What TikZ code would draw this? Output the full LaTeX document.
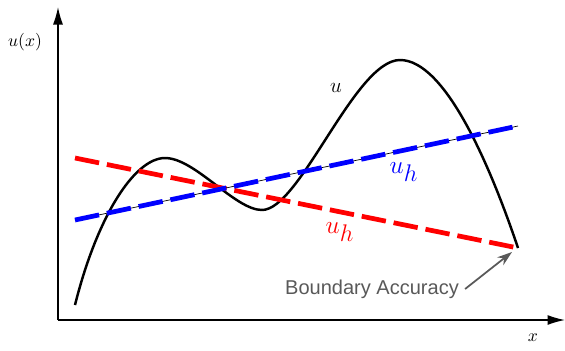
\documentclass[tikz,border=0pt]{standalone}
\usepackage{fontspec}
\newfontfamily\labelfont{Liberation Sans}
\usetikzlibrary{arrows.meta,positioning,calc}
\newcommand{\uhlab}{$u_{\scalebox{0.95}{$h$}}$}
\begin{document}
\begin{tikzpicture}[>={Latex[length=3.5mm,width=2mm]},
  ax/.style={line width=0.8pt,->},
  uh/.style={line width=2.7pt,dash pattern=on 14pt off 4.5pt},
  lab/.style={font=\large},
  hlab/.style={font=\fontsize{13.5}{15}\selectfont}]
\useasboundingbox (0,0) rectangle (11.3,7);
\coordinate (o) at (1.16,0.6);
\coordinate (ytop) at (1.16,6.86);
\coordinate (xend) at (11.3,0.6);
\draw[ax] (o)--(ytop); \draw[ax] (o)--(xend);
\node (ylab) at (0.5,6.16) {$u(x)$};
\node (xlab) at (10.66,0.24) {$x$};
% exact solution
\coordinate (c0) at (1.5,0.9);
\coordinate (c1) at (3.3,3.84);
\coordinate (c2) at (5.24,2.8);
\coordinate (c3) at (8.0,5.8);
\coordinate (c4) at (10.36,2.04);
\draw[line width=1.4pt] (c0) .. controls (1.95,2.7) and (2.7,3.84) .. (c1)
  .. controls (3.9,3.84) and (4.7,2.8) .. (c2)
  .. controls (6.0,2.8) and (7.1,5.8) .. (c3)
  .. controls (8.9,5.8) and (9.8,3.7) .. (c4);
% approximations
\coordinate (r0) at (1.5,3.84); \coordinate (r1) at (10.36,2.04);
\coordinate (b0) at (1.5,2.6); \coordinate (b1) at (10.36,4.48);
\draw[uh,red] (r0)--(r1);
\draw[thin] (b0)--(b1);
\draw[uh,blue] (b0)--(b1);
\node[lab] (u) at (6.72,5.24) {$u$};
\node[hlab,blue] (uhb) at (8.08,3.56) {\uhlab};
\node[hlab,red] (uhr) at (6.8,2.36) {\uhlab};
\node[gray!70!black,font=\labelfont\fontsize{11.4}{13}\selectfont] (ba) at (7.44,1.22) {Boundary Accuracy};
\draw[->,gray!70!black,line width=1pt,>={Stealth[length=3mm,width=2mm]}] (ba.east)--($(r1)+(-0.12,-0.08)$);
\end{tikzpicture}
\end{document}
